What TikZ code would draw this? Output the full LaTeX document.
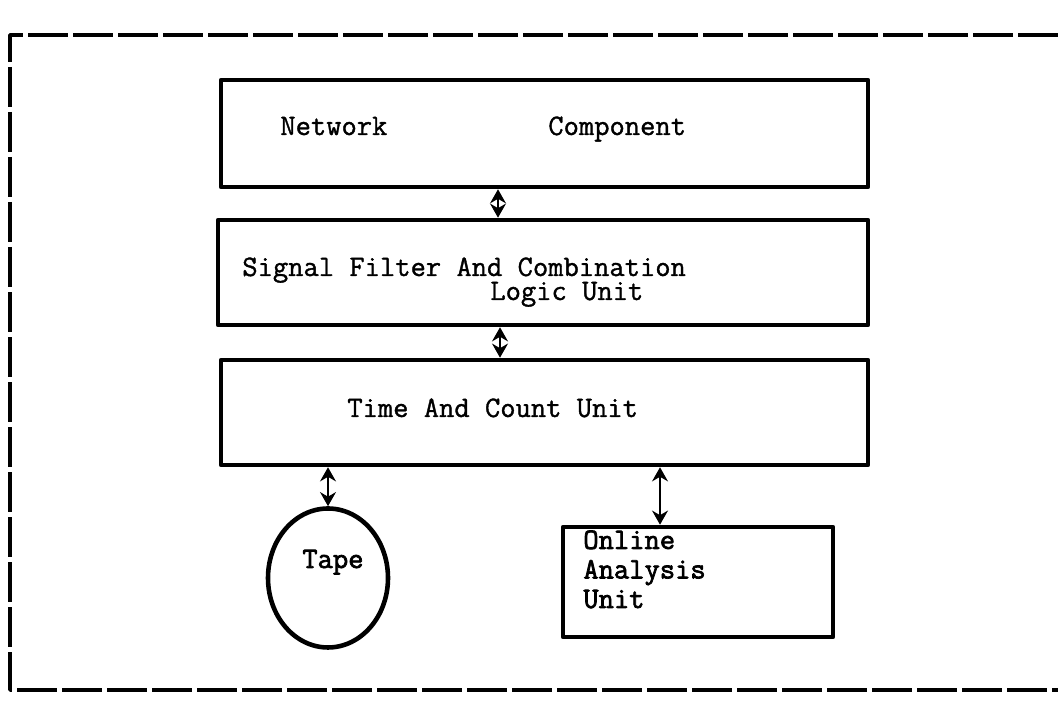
\documentclass[tikz,border=0pt]{standalone}
\usepackage{fontspec}
\setmonofont{Latin Modern Mono}[FakeBold=1.2]
\newfontfamily\ttheavy{Latin Modern Mono}[FakeBold=2.4]
\usetikzlibrary{shapes.geometric,arrows.meta}

\begin{document}
\begin{tikzpicture}[font=\ttfamily\fontsize{16.9}{18}\selectfont, line join=round, line cap=round, >={Stealth[length=8pt,width=9pt]},
	blockbox/.style={draw, line width=2.6pt, inner sep=0pt},
	txt/.style={anchor=base west, inner sep=0pt},
	heavy/.style={font=\ttheavy\fontsize{16.9}{16.8}\selectfont},
	dblarrow/.style={<->, line width=1.6pt}]
	\def\w{21.16} % page width
	\def\h{14.04} % page height
	\useasboundingbox (0,0) rectangle (\w,\h);
	% dashed frame, open on the right
	\draw[line width=2pt, line cap=butt, dash pattern=on 0.8cm off 0.1cm] (\w,13.34) -- (0.2,13.34) -- (0.2,0.24) -- (\w,0.24);
	
	\node[blockbox, minimum width=12.94cm, minimum height=2.14cm] (net) at (10.89,11.37) {};
	\node[blockbox, minimum width=13cm, minimum height=2.1cm] (sig) at (10.86,8.59) {};
	\node[blockbox, minimum width=12.94cm, minimum height=2.1cm] (tcu) at (10.89,5.79) {};
	\node[blockbox, ellipse, minimum width=2.4cm, minimum height=2.78cm] (tape) at (6.56,2.48) {};
	\node[blockbox, minimum width=5.4cm, minimum height=2.2cm] (ona) at (13.96,2.40) {};
	
	\node[txt] (netA) at (5.60,11.34) {Network};
	\node[txt] (netB) at (10.96,11.34) {Component};
	\node[txt] (sigA) at (4.84,8.52) {Signal Filter And Combination};
	\node[txt] (sigB) at (9.80,8.04) {Logic Unit};
	\node[txt] (tcuA) at (6.94,5.70) {Time And Count Unit};
	\node[txt, heavy] (tapeA) at (6.04,2.68) {Tape};
	\node[txt, heavy, align=left] (onaA) at (11.66,1.88) {Online\\Analysis\\Unit};
	
	\coordinate (a1) at (9.96,0); % arrow x positions
	\coordinate (a2) at (10.00,0);
	\coordinate (a4) at (13.20,0);
	\draw[dblarrow] (net.south -| a1) -- (sig.north -| a1);
	\draw[dblarrow] (sig.south -| a2) -- (tcu.north -| a2);
	\draw[dblarrow] (tcu.south -| tape.north) -- (tape.north);
	\draw[dblarrow] (tcu.south -| a4) -- (ona.north -| a4);
\end{tikzpicture}
\end{document}
